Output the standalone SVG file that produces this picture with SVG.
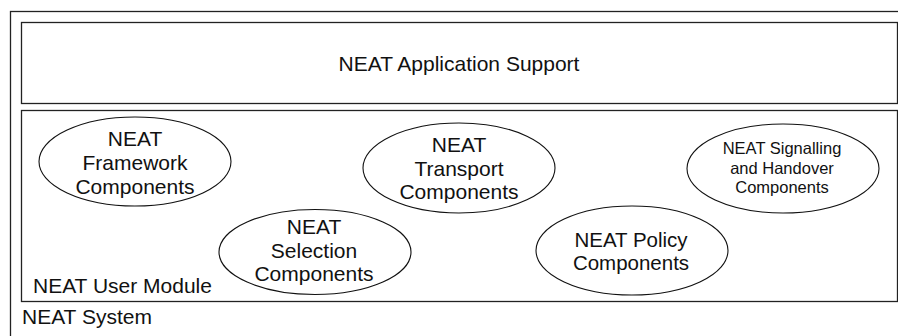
<svg xmlns="http://www.w3.org/2000/svg" width="898" height="336" viewBox="0 0 898 336">
<style>
.box{fill:#fff;stroke:#222;stroke-width:1.3}
.ell{fill:#fff;stroke:#111;stroke-width:1.1}
text{font-family:"Liberation Sans",Arial,Helvetica,sans-serif;fill:#111}
.lg{font-size:21px}
.md{font-size:20.5px}
.sm{font-size:16.5px}
.c{text-anchor:middle}
</style>
<rect width="898" height="336" fill="#fff"/>
<g id="neat-system">
<rect class="box" x="10.5" y="11.5" width="900" height="340"/>
<text class="lg" x="22" y="324">NEAT System</text>
</g>
<g id="neat-application-support">
<rect class="box" x="21.5" y="22.5" width="876" height="81"/>
<text class="lg c" x="459" y="71">NEAT Application Support</text>
</g>
<g id="neat-user-module">
<rect class="box" x="21.5" y="110.5" width="876" height="191"/>
<text class="lg" x="33" y="293">NEAT User Module</text>
</g>
<g id="neat-framework-components">
<ellipse class="ell" cx="135" cy="161.5" rx="96" ry="44.5"/>
<text class="lg c" x="135" y="146">NEAT</text>
<text class="lg c" x="135" y="170">Framework</text>
<text class="lg c" x="135" y="194">Components</text>
</g>
<g id="neat-transport-components">
<ellipse class="ell" cx="459" cy="168" rx="96" ry="45"/>
<text class="lg c" x="459" y="152">NEAT</text>
<text class="lg c" x="459" y="176">Transport</text>
<text class="lg c" x="459" y="199">Components</text>
</g>
<g id="neat-signalling-handover-components">
<ellipse class="ell" cx="783" cy="168.5" rx="96" ry="44.5"/>
<text class="sm c" x="782" y="154">NEAT Signalling</text>
<text class="sm c" x="782" y="173.5">and Handover</text>
<text class="sm c" x="782" y="193">Components</text>
</g>
<g id="neat-selection-components">
<ellipse class="ell" cx="315" cy="252" rx="96" ry="42.5"/>
<text class="lg c" x="314" y="234">NEAT</text>
<text class="lg c" x="314" y="258">Selection</text>
<text class="lg c" x="314" y="281">Components</text>
</g>
<g id="neat-policy-components">
<ellipse class="ell" cx="632" cy="250.5" rx="96" ry="44.5"/>
<text class="md c" x="631" y="247">NEAT Policy</text>
<text class="md c" x="631" y="269.5">Components</text>
</g>
</svg>
